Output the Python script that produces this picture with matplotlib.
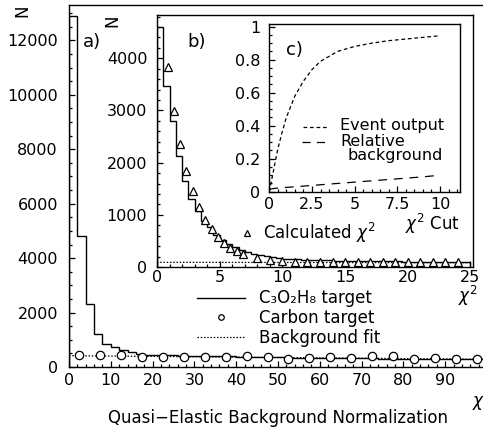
import numpy as np
import matplotlib
matplotlib.use('Agg')
import matplotlib.pyplot as plt
from matplotlib.lines import Line2D
from matplotlib.legend_handler import HandlerLine2D
from matplotlib.ticker import MultipleLocator, FormatStrFormatter

W, H, DPI = 483, 429, 100

plt.rcParams['font.family'] = ['DejaVu Sans']
plt.rcParams['mathtext.fontset'] = 'dejavusans'

# a) full chi2 distribution, bins of 2
main_edges = np.arange(0, 102, 2)
main_counts = [12900, 4830, 2300, 1220, 850, 730, 620, 540, 480, 455,
               440, 432, 425, 420, 414, 410, 402, 396, 392, 386,
               382, 376, 372, 366, 362, 352, 346, 342, 340, 336,
               332, 330, 326, 322, 320, 318, 314, 312, 310, 306,
               304, 302, 300, 298, 296, 294, 290, 288, 286, 282]
carbon_x = [2.5, 7.5, 12.5, 17.5, 22.5, 27.5, 32.5, 37.5, 42.5, 47.5,
            52.5, 57.5, 62.5, 67.5, 72.5, 77.5, 82.5, 87.5, 92.5, 97.5]
carbon_y = [440, 440, 428, 380, 355, 380, 380, 355, 400, 355,
            285, 330, 375, 320, 395, 405, 305, 340, 280, 280]
bgfit_x = [0, 100]
bgfit_y = [415, 283]
main_xticks = [0, 10, 20, 30, 40, 50, 60, 70, 80, 90]

# b) zoom on low chi2, bins of 0.5
zoom_edges = np.arange(0, 25.5, 0.5)
zoom_counts = [4600, 3460, 2800, 2130, 1640, 1300, 1080, 890, 760, 620,
               520, 440, 380, 330, 290, 255, 225, 205, 185, 170,
               160, 150, 145, 140, 135, 130, 128, 125, 122, 120,
               118, 115, 114, 112, 110, 110, 108, 107, 106, 105,
               104, 103, 103, 102, 101, 101, 100, 100, 99, 99]
calc_x = [0.85, 1.35, 1.85, 2.35, 2.85, 3.35, 3.85, 4.35, 4.85, 5.35,
          5.85, 6.35, 6.85, 8, 9, 10, 11, 12, 13, 14, 15, 16, 17, 18,
          19, 20, 21, 22, 23, 24]
calc_y = [3834, 2988, 2360, 1840, 1450, 1146, 905, 736, 580, 463,
          365, 299, 254, 175, 137, 123, 105, 100, 98, 97, 96, 95, 95, 94,
          94, 93, 93, 92, 92, 92]
zoom_bg_x = [0, 25]
zoom_bg_y = [90, 82]

# c) efficiency vs chi2 cut
cut_x = [0, 0.25, 0.5, 0.75, 1, 1.5, 2, 2.5, 3, 3.5, 4, 5, 6, 7, 8, 9, 10]
event_output = [0, 0.13, 0.26, 0.36, 0.45, 0.58, 0.67, 0.74, 0.79, 0.82,
                0.85, 0.88, 0.90, 0.915, 0.925, 0.935, 0.945]
rel_background = [0.015, 0.019, 0.022, 0.024, 0.026, 0.030, 0.034, 0.038,
                  0.042, 0.046, 0.050, 0.058, 0.066, 0.074, 0.082, 0.090,
                  0.100]

fig = plt.figure(figsize=(W / DPI, H / DPI), dpi=DPI)


def px_axes(left, top, right, bottom):
    return fig.add_axes([left / W, 1 - bottom / H, (right - left) / W, (bottom - top) / H])


def px_text(x, y, s, **kw):
    fig.text(x / W, 1 - y / H, s, **kw)


def style(ax, xmaj, xmin, ymaj, ymin, xpad, ypad):
    ax.xaxis.set_major_locator(MultipleLocator(xmaj))
    ax.xaxis.set_minor_locator(MultipleLocator(xmin))
    ax.yaxis.set_major_locator(MultipleLocator(ymaj))
    ax.yaxis.set_minor_locator(MultipleLocator(ymin))
    ax.tick_params(which='both', direction='in', top=False, right=False,
                   width=0.9, labelsize=11.5)
    ax.tick_params(axis='x', which='both', pad=xpad)
    ax.tick_params(axis='y', which='both', pad=ypad)
    ax.tick_params(which='major', length=4.5)
    ax.tick_params(which='minor', length=2.3)
    for sp in ax.spines.values():
        sp.set_linewidth(1.0)


class RightMarker(HandlerLine2D):
    # ROOT-style legend: marker sits at the right end of the symbol box
    def get_xdata(self, legend, xdescent, ydescent, width, height, fontsize):
        xdata = np.array([-xdescent, -xdescent + width])
        return xdata, np.array([-xdescent + width - 0.3 * fontsize])


# main plot
ax = px_axes(69, 5, 487, 367)
ax.stairs(main_counts, main_edges, color='black', lw=1.0)
ax.plot(bgfit_x, bgfit_y, color='black', lw=0.9, ls=(0, (1.2, 1.4)))
ax.plot(carbon_x, carbon_y, ls='none', marker='o', ms=6, mfc='white',
        mec='black', mew=0.9)
ax.set_xlim(0, 100)
ax.set_ylim(0, 13300)
style(ax, 10, 2, 2000, 500, 4, 8)
ax.set_xticks(main_xticks)

h_line = Line2D([], [], color='black', lw=1.0)
h_circ = Line2D([], [], ls='none', marker='o', ms=4, mfc='white', mec='black', mew=0.9)
h_dot = Line2D([], [], color='black', lw=0.9, ls=(0, (1.2, 1.4)))
ax.legend([h_line, h_circ, h_dot],
          ['C\u2083O\u2082H\u2088 target', 'Carbon target', 'Background fit'],
          handler_map={h_circ: RightMarker()},
          loc='center left', bbox_to_anchor=((197 - 69) / 418, (367 - 318) / 362),
          frameon=False, borderpad=0, borderaxespad=0, handlelength=2.9,
          handletextpad=0.8, labelspacing=0.1, fontsize=12)

# inset b
axb = px_axes(157, 15, 473, 267)
axb.stairs(zoom_counts, zoom_edges, color='black', lw=1.0)
axb.plot(zoom_bg_x, zoom_bg_y, color='black', lw=0.9, ls=(0, (1.2, 1.4)))
axb.plot(calc_x, calc_y, ls='none', marker='^', ms=6, mfc='white',
         mec='black', mew=0.9)
axb.set_xlim(0, 25.2)
axb.set_ylim(0, 4830)
style(axb, 5, 1, 1000, 200, 2.5, 7)
h_tri = Line2D([], [], ls='none', marker='^', ms=4.5, mfc='white', mec='black', mew=0.9)
axb.legend([h_tri], [r'Calculated $\chi^2$'], loc='center left',
           bbox_to_anchor=(0.2585, 0.134), frameon=False, borderpad=0,
           borderaxespad=0, handlelength=1.0, handletextpad=0.44, fontsize=12)

# inset c
axc = px_axes(269.3, 24, 460, 191.7)
short_dash = (0, (3.0, 2.2))
long_dash = (0, (7.0, 5.5))
axc.plot(cut_x, event_output, color='black', lw=0.9, ls=short_dash)
axc.plot(cut_x, rel_background, color='black', lw=0.9, ls=long_dash)
axc.set_xlim(0, 11.17)
axc.set_ylim(0, 1.016)
style(axc, 2.5, 0.5, 0.2, 0.05, 4, 6.5)
axc.xaxis.set_major_formatter(FormatStrFormatter('%g'))
axc.yaxis.set_major_formatter(FormatStrFormatter('%g'))

# legend of c, drawn by hand
axc.plot([0.177, 0.302], [0.388, 0.388], transform=axc.transAxes,
         color='black', lw=0.9, ls=short_dash)
axc.plot([0.170, 0.300], [0.298, 0.298], transform=axc.transAxes,
         color='black', lw=0.9, ls=(0, (6.5, 5.0)))
axc.text(0.371, 0.392, 'Event output', transform=axc.transAxes, fontsize=11.5, va='center')
axc.text(0.371, 0.302, 'Relative', transform=axc.transAxes, fontsize=11.5, va='center')
axc.text(0.409, 0.218, 'background', transform=axc.transAxes, fontsize=11.5, va='center')

# panel letters and axis titles
px_text(83, 42, 'a)', fontsize=13, va='center')
px_text(187, 42, 'b)', fontsize=13, va='center')
px_text(286, 50, 'c)', fontsize=13, va='center')
px_text(22, 11, 'N', fontsize=12, rotation=90, ha='center', va='center')
px_text(112, 21, 'N', fontsize=12, rotation=90, ha='center', va='center')
px_text(460, 224, r'$\chi^2$ Cut', fontsize=12, ha='right', va='center')
px_text(478, 296, r'$\chi^2$', fontsize=12, ha='right', va='center')
px_text(472, 401, r'$\chi^2$', fontsize=12, ha='left', va='center')
px_text(278, 418, 'Quasi\u2212Elastic Background Normalization', fontsize=12,
        ha='center', va='center')

fig.savefig('out.png', dpi=DPI)
